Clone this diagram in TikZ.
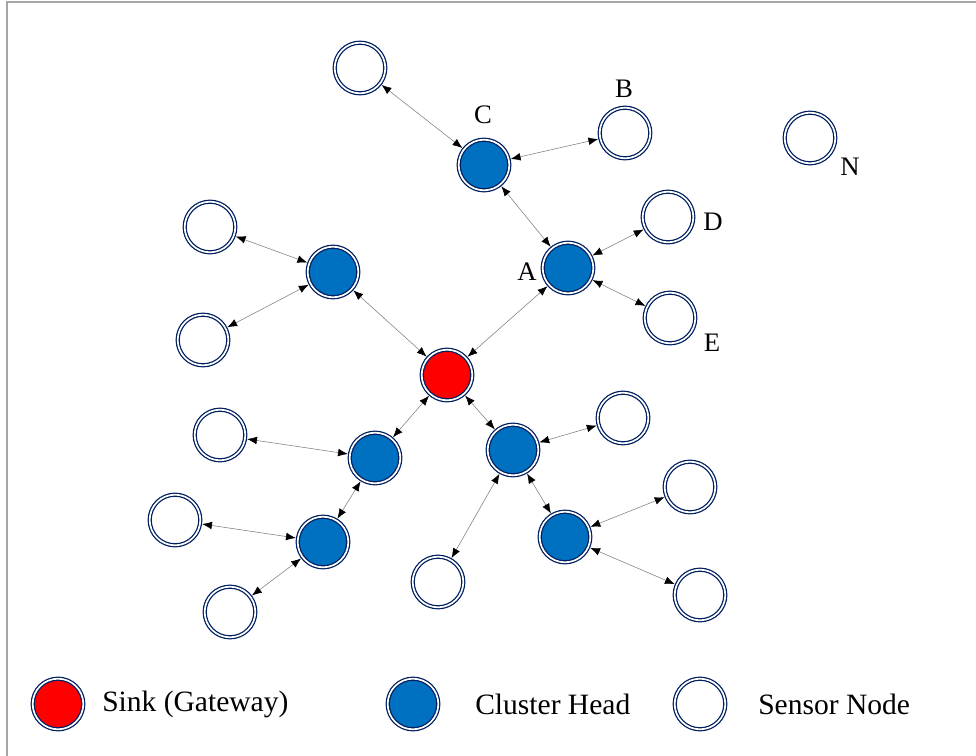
\documentclass[tikz,border=0pt]{standalone}
\usepackage{fontspec}
\setmainfont{Liberation Serif}
\usetikzlibrary{arrows.meta}
\definecolor{navy}{RGB}{0,32,96}
\definecolor{chblue}{RGB}{0,112,192}
\tikzset{
  wsn/.style={circle,draw=navy,double=white,line width=.9pt,double distance=1.2pt,
    minimum size=36pt,inner sep=0pt,outer sep=1.5pt},
  sink/.style={wsn,fill=red},
  head/.style={wsn,fill=chblue},
  sensor/.style={wsn,fill=white},
  link/.style={draw=gray,line width=.4pt,
    {Latex[black,length=7pt,width=5.5pt]}-{Latex[black,length=7pt,width=5.5pt]}},
  lbl/.style={font=\fontsize{19}{22}\selectfont,inner sep=0pt},
  key/.style={font=\fontsize{21}{24}\selectfont,inner sep=0pt,anchor=west},
}
\begin{document}
\begin{tikzpicture}[x=.025cm,y=-.025cm]
  \useasboundingbox (0,0) rectangle (976,756);
  \draw[gray!70,line width=.8pt] (7,756)--(7,2)--(976,2);
  % sink, cluster heads, sensors
  \node[sink] (gw) at (447,375) {};
  \foreach \n/\x/\y in {a/568/268,c/484/165,h1/333/272,h2/375/458,
      h3/513/450,h4/323/542,h5/565/537}
    \node[head] (\n) at (\x,\y) {};
  \foreach \n/\x/\y in {b/625/133,d/668/217,e/670/318,n/810/138,
      s1/360/68,s2/210/227,s3/203/340,s4/220/435,s5/175/520,s6/230/612,
      s7/623/418,s8/438/582,s9/690/487,s10/700/595}
    \node[sensor] (\n) at (\x,\y) {};
  % letters
  \foreach \n/\x/\y/\t in {la/527/272/A,lb/624/89/B,lc/483/115/C,
      ld/713/222/D,le/712/343/E,ln/850/167/N}
    \node[lbl] (\n) at (\x,\y) {\t};
  % links
  \foreach \u/\v in {s1/c,b/c,c/a,d/a,e/a,a/gw,h1/gw,s2/h1,s3/h1,
      gw/h2,gw/h3,s4/h2,h2/h4,s5/h4,s6/h4,s7/h3,s8/h3,h3/h5,s9/h5,s10/h5}
    \draw[link] (\u) -- (\v);
  % legend
  \node[sink] (kgw) at (58,704) {};
  \node[key] (tgw) at (102,704) {Sink (Gateway)};
  \node[head] (kch) at (413,704) {};
  \node[key] (tch) at (475,704) {Cluster Head};
  \node[sensor] (ksn) at (700,704) {};
  \node[key] (tsn) at (758,704) {Sensor Node};
\end{tikzpicture}
\end{document}
